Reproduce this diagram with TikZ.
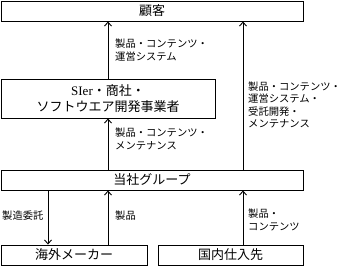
\documentclass[tikz,border=0pt]{standalone}
\usepackage{fontspec}
\setmainfont{Noto Sans CJK JP}
\newfontfamily\latinserif{Liberation Serif}
\usetikzlibrary{arrows.meta}
\begin{document}
\begin{tikzpicture}[x=1pt,y=-1pt,
  box/.style={draw,line width=0.9pt,inner sep=0pt,font=\fontsize{13}{16}\selectfont},
  lab/.style={anchor=west,align=left,inner sep=0pt,font=\fontsize{10.3}{12.5}\selectfont},
  arr/.style={line width=0.9pt,-{Straight Barb[length=4pt,width=7pt]}}]
\useasboundingbox (0,0) rectangle (342,266);
\node[box,minimum width=302pt,minimum height=20pt] (kok) at (152,11) {顧客};
\node[box,minimum width=214pt,minimum height=39pt,align=center] (sier) at (108,98.5) {{\latinserif SIer}・商社・\\ソフトウエア開発事業者};
\node[box,minimum width=302pt,minimum height=20pt] (tos) at (152,180) {当社グループ};
\node[box,minimum width=146pt,minimum height=20pt] (kai) at (74,255) {海外メーカー};
\node[box,minimum width=145pt,minimum height=20pt] (kokn) at (230.5,255) {国内仕入先};
\draw[arr] (sier.north -| 108,0) -- (kok.south -| 108,0);
\draw[arr] (tos.north -| 108,0) -- (sier.south -| 108,0);
\draw[arr] (tos.north -| 243,0) -- (kok.south -| 243,0);
\draw[arr] (tos.south -| 48,0) -- (kai.north -| 48,0);
\draw[arr] (kai.north -| 108,0) -- (tos.south -| 108,0);
\draw[arr] (kokn.north -| 243,0) -- (tos.south -| 243,0);
\node[lab] (l1) at (115,50) {製品・コンテンツ・\\運営システム};
\node[lab] (l2) at (115,139) {製品・コンテンツ・\\メンテナンス};
\node[lab] (l3) at (248,105) {製品・コンテンツ・\\運営システム・\\受託開発・\\メンテナンス};
\node[lab] (l4) at (2,216) {製造委託};
\node[lab] (l5) at (115,216) {製品};
\node[lab] (l6) at (248,220) {製品・\\コンテンツ};
\end{tikzpicture}
\end{document}
